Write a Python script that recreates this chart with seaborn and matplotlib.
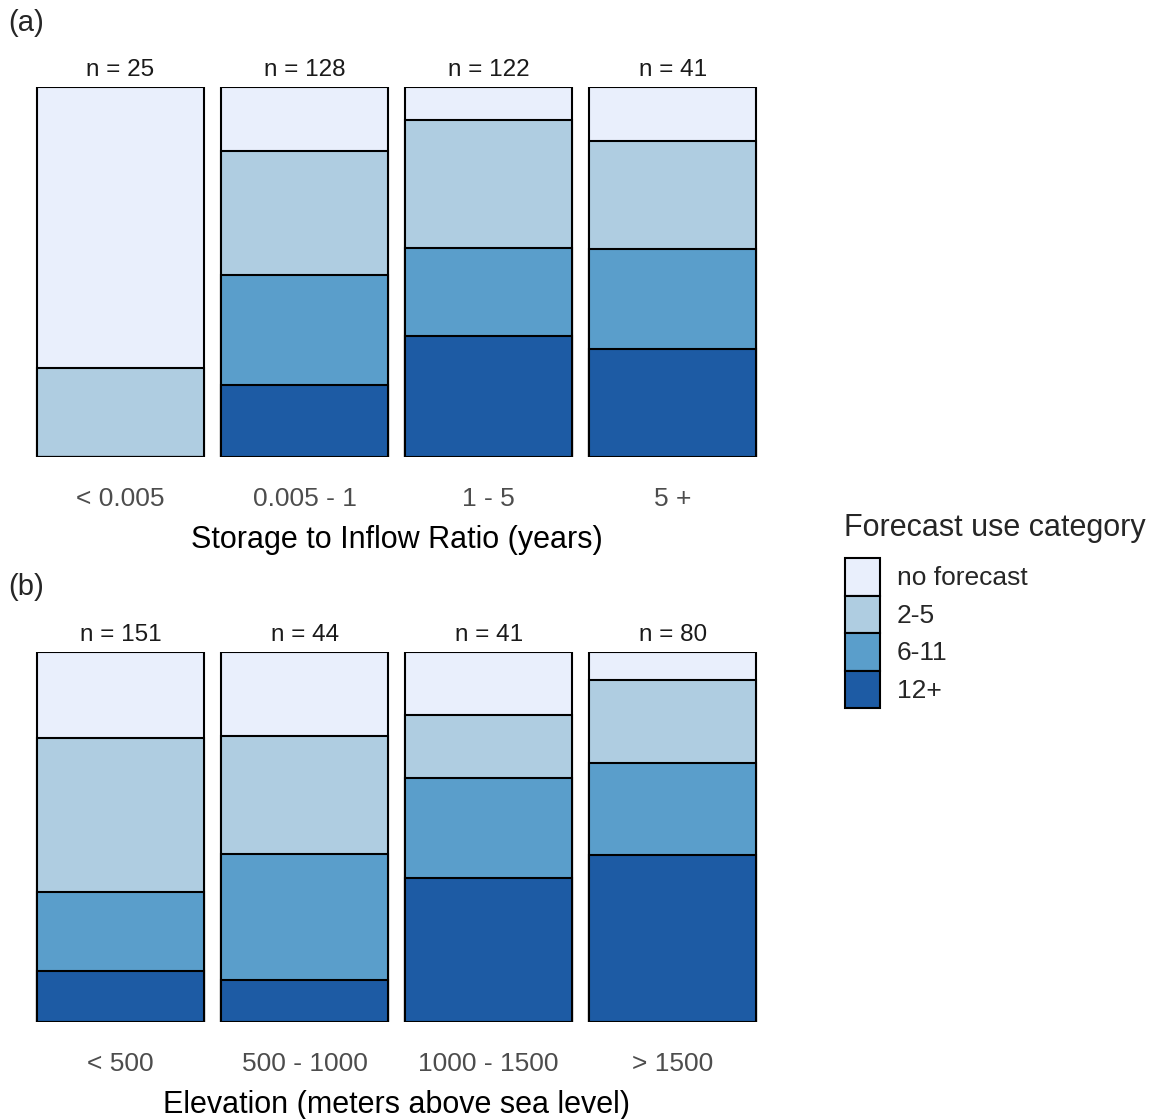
import numpy as np
import pandas as pd
import matplotlib
matplotlib.use("Agg")
import matplotlib.pyplot as plt
import seaborn as sns
from matplotlib.patches import Patch

# forecast use categories (top of the stack first)
categories = ["no forecast", "2-5", "6-11", "12+"]
colors = ["#E9EFFC", "#AFCDE1", "#5A9ECB", "#1D5BA4"]

# panel (a): storage to inflow ratio
storage_bins = ["< 0.005", "0.005 - 1", "1 - 5", "5 +"]
storage_nofc = [19, 22, 11, 6]
storage_2_5 = [6, 43, 42, 12]
storage_6_11 = [0, 38, 29, 11]
storage_12 = [0, 25, 40, 12]

# panel (b): elevation
elev_bins = ["< 500", "500 - 1000", "1000 - 1500", "> 1500"]
elev_nofc = [35, 10, 7, 6]
elev_2_5 = [63, 14, 7, 18]
elev_6_11 = [32, 15, 11, 20]
elev_12 = [21, 5, 16, 36]

sns.set_theme(style="white")
plt.rcParams["font.family"] = ["Liberation Sans", "DejaVu Sans"]

fig = plt.figure(figsize=(11.56, 11.19), dpi=100)
ax_a = fig.add_axes([0.0247, 0.5916, 0.6367, 0.3307])
ax_b = fig.add_axes([0.0247, 0.0867, 0.6367, 0.3307])


def stacked(ax, bins, series, xlabel):
    df = pd.DataFrame(dict(zip(categories, series)), index=bins)
    totals = df.sum(axis=1)
    prop = df.div(totals, axis=0)
    # cumulative from the bottom (12+) up, then draw tallest layer first
    cum = prop[categories[::-1]].cumsum(axis=1)[categories[::-1]]
    for cat, col in zip(categories, colors):
        sns.barplot(x=bins, y=cum[cat].values, order=bins, color=col,
                    edgecolor="black", linewidth=1.5, width=0.91,
                    saturation=1, ax=ax)
    for i, b in enumerate(bins):
        ax.text(i, 1.015, f"n = {totals[b]}", ha="center", va="bottom",
                fontsize=17.5, color="#1a1a1a")
    ax.set_ylim(0, 1)
    ax.set_xlim(-0.5, len(bins) - 0.5)
    ax.set_yticks([])
    ax.set_ylabel("")
    ax.tick_params(axis="x", length=0, pad=21.5, labelsize=19, labelcolor="#4D4D4D")
    ax.set_xlabel(xlabel, fontsize=22, color="black", labelpad=10)
    sns.despine(ax=ax, left=True, bottom=True)


stacked(ax_a, storage_bins, [storage_nofc, storage_2_5, storage_6_11, storage_12],
        "Storage to Inflow Ratio (years)")
stacked(ax_b, elev_bins, [elev_nofc, elev_2_5, elev_6_11, elev_12],
        "Elevation (meters above sea level)")

fig.text(0.007, 0.979, "(a)", fontsize=21, va="center")
fig.text(0.007, 0.475, "(b)", fontsize=21, va="center")

# legend title drawn separately for spacing control
fig.text(0.7305, 0.5282, "Forecast use category", fontsize=22, va="center")
handles = [Patch(facecolor=c, edgecolor="black", linewidth=1.5) for c in colors]
leg = fig.legend(handles, categories, loc="upper left",
                 bbox_to_anchor=(0.731, 0.5013), frameon=False, fontsize=19,
                 handlelength=1.33, handleheight=1.81, labelspacing=0.0,
                 handletextpad=0.64, borderaxespad=0, borderpad=0)

fig.savefig("out.png", dpi=100)
